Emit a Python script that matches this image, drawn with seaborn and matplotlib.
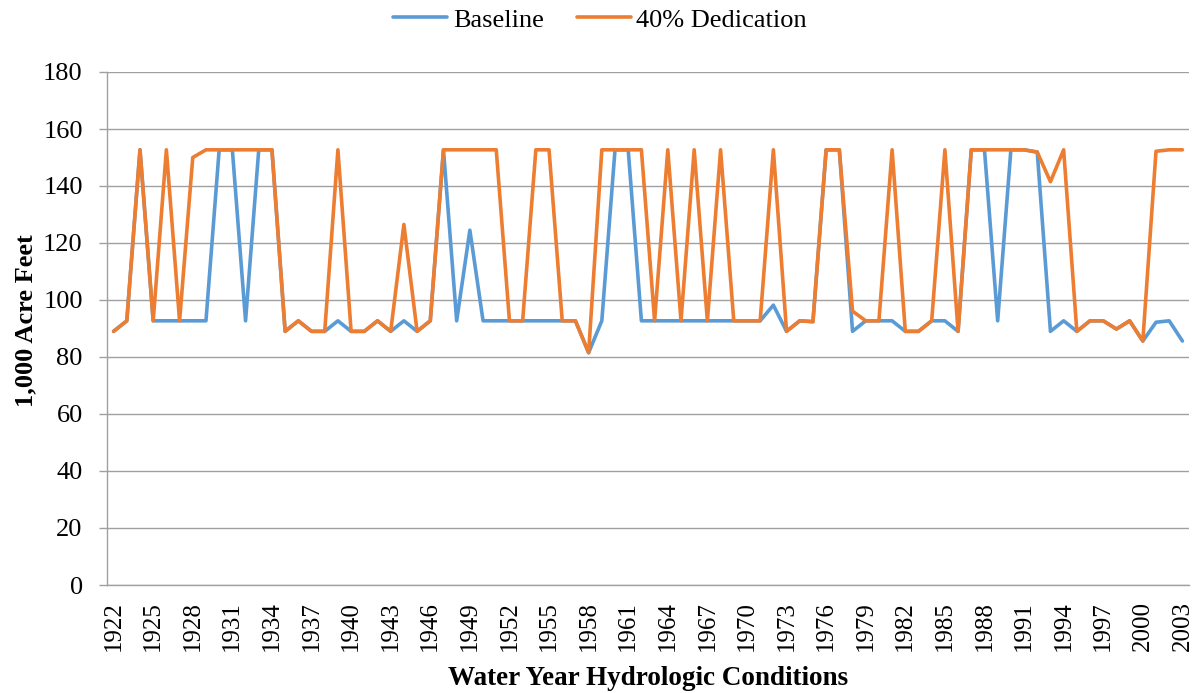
import pandas as pd
import numpy as np
import matplotlib
matplotlib.use("Agg")
import matplotlib.pyplot as plt
from matplotlib.ticker import FixedLocator
import seaborn as sns

# Water years 1922-2003
years = list(range(1922, 2004))

# Values (1,000 acre feet)
baseline = [
    89.0, 92.7, 152.7, 92.7, 92.7, 92.7, 92.7, 92.7, 152.7, 152.7,   # 1922-1931
    92.7, 152.7, 152.7, 89.0, 92.7, 89.0, 89.0, 92.7, 89.0, 89.0,    # 1932-1941
    92.7, 89.0, 92.7, 89.0, 92.7, 152.7, 92.7, 124.5, 92.7, 92.7,    # 1942-1951
    92.7, 92.7, 92.7, 92.7, 92.7, 92.7, 81.5, 92.7, 152.7, 152.7,    # 1952-1961
    92.7, 92.7, 92.7, 92.7, 92.7, 92.7, 92.7, 92.7, 92.7, 92.7,      # 1962-1971
    98.2, 89.0, 92.7, 92.4, 152.7, 152.7, 89.0, 92.7, 92.7, 92.7,    # 1972-1981
    89.0, 89.0, 92.7, 92.7, 89.0, 152.7, 152.7, 92.7, 152.7, 152.7,  # 1982-1991
    151.9, 89.0, 92.7, 89.0, 92.7, 92.7, 89.8, 92.7, 85.6, 92.2,     # 1992-2001
    92.7, 85.6,                                                      # 2002-2003
]
dedication_40 = [
    89.0, 92.7, 152.7, 92.7, 152.7, 92.7, 150.0, 152.7, 152.7, 152.7,
    152.7, 152.7, 152.7, 89.0, 92.7, 89.0, 89.0, 152.7, 89.0, 89.0,
    92.7, 89.0, 126.5, 89.0, 92.7, 152.7, 152.7, 152.7, 152.7, 152.7,
    92.7, 92.7, 152.7, 152.7, 92.7, 92.7, 81.5, 152.7, 152.7, 152.7,
    152.7, 92.7, 152.7, 92.7, 152.7, 92.7, 152.7, 92.7, 92.7, 92.7,
    152.7, 89.0, 92.7, 92.4, 152.7, 152.7, 96.1, 92.7, 92.7, 152.7,
    89.0, 89.0, 92.7, 152.7, 89.0, 152.7, 152.7, 152.7, 152.7, 152.7,
    151.9, 141.5, 152.7, 89.0, 92.7, 92.7, 89.8, 92.7, 85.6, 152.2,
    152.7, 152.7,
]

series_names = ["Baseline", "40% Dedication"]
colors = ["#5B9BD5", "#ED7D31"]

df = pd.DataFrame({
    "pos": list(range(len(years))) * 2,
    "value": baseline + dedication_40,
    "series": [series_names[0]] * len(years) + [series_names[1]] * len(years),
})

sns.set_theme(style="white")
plt.rcParams["font.family"] = ["Liberation Serif", "DejaVu Serif"]
plt.rcParams["text.color"] = "black"
plt.rcParams["xtick.color"] = "black"
plt.rcParams["ytick.color"] = "black"
plt.rcParams["axes.labelcolor"] = "black"

fs = 19

fig = plt.figure(figsize=(12, 6.93), dpi=100)
ax = fig.add_axes([107 / 1200, 1 - 585 / 693, (1189 - 107) / 1200, (585 - 72) / 693])

sns.lineplot(data=df, x="pos", y="value", hue="series", palette=colors,
             linewidth=2.6, ax=ax, legend=True)

ax.set_xlim(-0.5, len(years) - 0.5)
ax.set_ylim(0, 180)
ax.set_yticks(np.arange(0, 181, 20))
ax.yaxis.grid(True, color="#A0A0A0", linewidth=1.0)
ax.set_axisbelow(True)

# category labels every third year, ticks between categories
label_pos = list(range(0, len(years), 3))
ax.set_xticks(label_pos)
ax.set_xticklabels([str(years[i]) for i in label_pos], rotation=90)
ax.xaxis.set_minor_locator(FixedLocator(np.arange(-0.5, len(years), 1)))
ax.tick_params(axis="x", which="major", length=0, pad=11.5, labelsize=18)
ax.tick_params(axis="x", which="minor", length=4.5, width=1, color="#A0A0A0", direction="out")
ax.tick_params(axis="y", which="major", length=6, width=1, color="#A0A0A0",
               direction="out", labelsize=fs, pad=11.5, left=True)

for side in ["top", "right"]:
    ax.spines[side].set_visible(False)
for side in ["left", "bottom"]:
    ax.spines[side].set_color("#A0A0A0")
    ax.spines[side].set_linewidth(1.0)

ax.set_xlabel("Water Year Hydrologic Conditions", fontsize=19.5, fontweight="bold")
ax.set_ylabel("1,000 Acre Feet", fontsize=fs, fontweight="bold")
ax.xaxis.set_label_coords(0.5, (585 - 666) / 513)
ax.yaxis.set_label_coords((37 - 107) / 1082, (585 - 321) / 513)

handles, labels = ax.get_legend_handles_labels()
ax.legend(handles, labels, loc="center", bbox_to_anchor=(0.5, 1 - 20 / 693),
          bbox_transform=fig.transFigure, ncol=2, frameon=False, fontsize=fs,
          handlelength=2.05, handletextpad=0.2, columnspacing=1.25)

fig.savefig("out.png", dpi=100)
